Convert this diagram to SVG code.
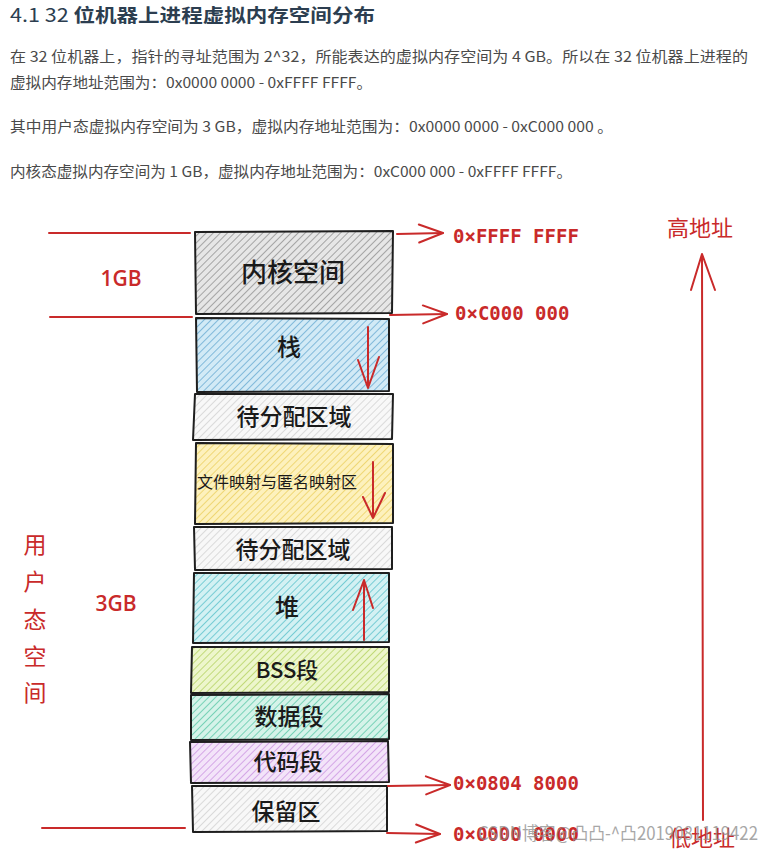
<svg xmlns="http://www.w3.org/2000/svg" width="768" height="853" viewBox="0 0 768 853">
<style>
.hd{font-family:"Noto Sans CJK SC","Noto Sans",sans-serif;fill:#2c3e50}
.p{font-family:"Noto Sans CJK SC","Noto Sans",sans-serif;font-size:14.5px;fill:#4a4a4a}
.box{stroke:#1e1e1e;stroke-width:2;stroke-linejoin:round}
.lbl{font-family:"Noto Sans CJK SC","Noto Sans",sans-serif;font-weight:500;fill:#1a1a1a;text-anchor:middle}
.addr{font-family:"DejaVu Sans Mono","Liberation Mono",monospace;font-size:19px;font-weight:bold;fill:#c92a2a}
.gb{font-family:"Open Sans","Noto Sans CJK SC",sans-serif;font-size:21px;font-weight:600;fill:#c92a2a;text-anchor:middle}
.cn{font-family:"Noto Sans CJK SC",sans-serif;fill:#c92a2a;text-anchor:middle}
.ln{stroke:#c92a2a;stroke-width:2;fill:none;stroke-linecap:round;stroke-linejoin:round}
.wm{font-family:"Noto Sans CJK SC","Noto Sans",sans-serif;font-size:18px;fill:#8a8a8a;opacity:0.75}
</style>
<defs>
<pattern id="hKern" width="5" height="5" patternUnits="userSpaceOnUse" patternTransform="rotate(45)"><rect width="5" height="5" fill="#e6e6e6"/><line x1="0" y1="0" x2="0" y2="5" stroke="#808080" stroke-width="1.3"/></pattern>
<pattern id="hStack" width="5" height="5" patternUnits="userSpaceOnUse" patternTransform="rotate(45)"><rect width="5" height="5" fill="#d2eaf6"/><line x1="0" y1="0" x2="0" y2="5" stroke="#559fcb" stroke-width="1.3"/></pattern>
<pattern id="hFree" width="5" height="5" patternUnits="userSpaceOnUse" patternTransform="rotate(45)"><rect width="5" height="5" fill="#f8f8f8"/><line x1="0" y1="0" x2="0" y2="5" stroke="#c2c2c2" stroke-width="1.1"/></pattern>
<pattern id="hMap" width="5" height="5" patternUnits="userSpaceOnUse" patternTransform="rotate(45)"><rect width="5" height="5" fill="#fdf1bd"/><line x1="0" y1="0" x2="0" y2="5" stroke="#e8ca4e" stroke-width="1.3"/></pattern>
<pattern id="hHeap" width="5" height="5" patternUnits="userSpaceOnUse" patternTransform="rotate(45)"><rect width="5" height="5" fill="#d3f1f3"/><line x1="0" y1="0" x2="0" y2="5" stroke="#45b8c4" stroke-width="1.3"/></pattern>
<pattern id="hBss" width="5" height="5" patternUnits="userSpaceOnUse" patternTransform="rotate(45)"><rect width="5" height="5" fill="#edf6cc"/><line x1="0" y1="0" x2="0" y2="5" stroke="#aacb4e" stroke-width="1.3"/></pattern>
<pattern id="hData" width="5" height="5" patternUnits="userSpaceOnUse" patternTransform="rotate(45)"><rect width="5" height="5" fill="#d5f3e9"/><line x1="0" y1="0" x2="0" y2="5" stroke="#45c09c" stroke-width="1.3"/></pattern>
<pattern id="hCode" width="5" height="5" patternUnits="userSpaceOnUse" patternTransform="rotate(45)"><rect width="5" height="5" fill="#f3e4f9"/><line x1="0" y1="0" x2="0" y2="5" stroke="#c485dc" stroke-width="1.3"/></pattern>
<marker id="open" markerUnits="userSpaceOnUse" markerWidth="30" markerHeight="24" viewBox="-26 -12 30 24" refX="0" refY="0" orient="auto"><path d="M-24,-9 L0,0 L-24,9" fill="none" stroke="#c92a2a" stroke-width="2" stroke-linecap="round" stroke-linejoin="round"/></marker>
</defs>
<rect width="768" height="853" fill="#ffffff"/>

<g id="header">
<text class="hd" x="10" y="22" font-size="18.5" font-weight="bold" textLength="365" lengthAdjust="spacingAndGlyphs"><tspan font-weight="normal">4.1 32 </tspan>位机器上进程虚拟内存空间分布</text>
<text class="p" x="10" y="62" textLength="738" lengthAdjust="spacingAndGlyphs">在 32 位机器上，指针的寻址范围为 2^32，所能表达的虚拟内存空间为 4 GB。所以在 32 位机器上进程的</text>
<text class="p" x="10" y="88" textLength="362" lengthAdjust="spacingAndGlyphs">虚拟内存地址范围为：0x0000 0000 - 0xFFFF FFFF。</text>
<text class="p" x="10" y="132" textLength="603" lengthAdjust="spacingAndGlyphs">其中用户态虚拟内存空间为 3 GB，虚拟内存地址范围为：0x0000 0000 - 0xC000 000 。</text>
<text class="p" x="10" y="177" textLength="562" lengthAdjust="spacingAndGlyphs">内核态虚拟内存空间为 1 GB，虚拟内存地址范围为：0xC000 000 - 0xFFFF FFFF。</text>
</g>

<g id="kernel"><path class="box" d="M195,232 L393,231 L392,313 L196,314 Z" fill="url(#hKern)"/><text class="lbl" x="293" y="282" font-size="26">内核空间</text></g>
<g id="stack"><path class="box" d="M196,318 L389,319 L389,391 L197,392 Z" fill="url(#hStack)"/><text class="lbl" x="289" y="356" font-size="24">栈</text></g>
<g id="free1"><path class="box" d="M195,394 L393,394 L392,439 L193,440 Z" fill="url(#hFree)"/><text class="lbl" x="294" y="425" font-size="23">待分配区域</text></g>
<g id="mmap"><path class="box" d="M196,443 L393,444 L393,523 L195,524 Z" fill="url(#hMap)"/><text class="lbl" x="197" y="488" font-size="16" style="text-anchor:start;font-weight:normal">文件映射与匿名映射区</text></g>
<g id="free2"><path class="box" d="M194,527 L392,527 L392,569 L195,570 Z" fill="url(#hFree)"/><text class="lbl" x="293" y="558" font-size="23">待分配区域</text></g>
<g id="heap"><path class="box" d="M194,573 L389,573 L389,642 L193,643 Z" fill="url(#hHeap)"/><text class="lbl" x="287" y="616" font-size="24">堆</text></g>
<g id="bss"><path class="box" d="M192,647 L389,647 L389,692 L191,693 Z" fill="url(#hBss)"/><text class="lbl" x="287" y="678" font-size="22">BSS段</text></g>
<g id="data"><path class="box" d="M191,695 L389,694 L389,739 L191,740 Z" fill="url(#hData)"/><text class="lbl" x="289" y="725" font-size="23">数据段</text></g>
<g id="code"><path class="box" d="M190,742 L388,741 L389,782 L191,783 Z" fill="url(#hCode)"/><text class="lbl" x="288" y="770" font-size="23">代码段</text></g>
<g id="reserved"><path class="box" d="M192,786 L387,786 L387,831 L193,832 Z" fill="url(#hFree)"/><text class="lbl" x="286" y="820" font-size="23">保留区</text></g>

<g id="connectors">
<path class="ln" d="M368,327 L368,388 M358,360 L368,388 L379,357"/>
<path class="ln" d="M373,462 L373,518 M363,497 L373,518 L385,493"/>
<path class="ln" d="M364,640 L364,580 M353,610 L364,580 L373,608"/>
<path class="ln" d="M49,233 L190,233"/>
<path class="ln" d="M50,317 L192,317"/>
<path class="ln" d="M42,828 L185,828"/>
<path class="ln" d="M397,234 L443,233" marker-end="url(#open)"/>
<path class="ln" d="M390,315 L447,314" marker-end="url(#open)"/>
<path class="ln" d="M388,786 L450,785" marker-end="url(#open)"/>
<path class="ln" d="M387,833 L440,834" marker-end="url(#open)"/>
<path class="ln" d="M703,820 L702,254 M691,290 L702,254 L715,290"/>
</g>

<g id="labels">
<text class="addr" x="453" y="243">0×FFFF FFFF</text>
<text class="addr" x="455" y="320">0×C000 000</text>
<text class="addr" x="453" y="790">0×0804 8000</text>
<text class="addr" x="453" y="841">0×0000 0000</text>
<text class="gb" x="121" y="286">1GB</text>
<text class="gb" x="116" y="611">3GB</text>
<text class="cn" x="35" font-size="23"><tspan x="35" y="553">用</tspan><tspan x="35" y="590">户</tspan><tspan x="35" y="628">态</tspan><tspan x="35" y="665">空</tspan><tspan x="35" y="701">间</tspan></text>
<text class="cn" x="700" y="236" font-size="22">高地址</text>
<text class="cn" x="702" y="846" font-size="22">低地址</text>
<text class="wm" x="478" y="840" textLength="280" lengthAdjust="spacingAndGlyphs">CSDN博客@凸凸-^凸2019081119422</text>
</g>
</svg>
